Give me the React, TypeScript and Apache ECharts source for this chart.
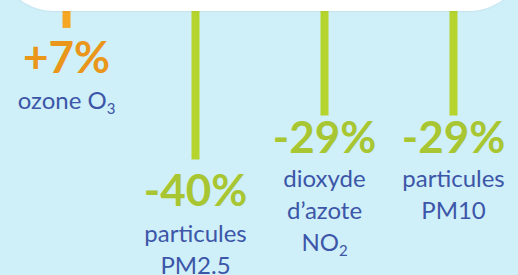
import React, { useEffect, useRef } from "react";
import * as echarts from "echarts";

// Pollutant categories ("_" marks a subscript, "\n" a line break)
const categories = ["ozone O_3", "particules\nPM2.5", "dioxyde\nd’azote\nNO_2", "particules\nPM10"];
// Change in concentration (%)
const changes = [7, -40, -29, -29];

const BG = "#cfeff9";
const ORANGE_BAR = "#f5a623";
const ORANGE_TEXT = "#e9961a";
const GREEN_BAR = "#b5d42e";
const GREEN_TEXT = "#a8c631";
const BLUE = "#3c56a8";
const FONT = "Lato";

// per-bar label styling (line height of value line, distance to bar end)
const valueLineHeights = [55, 55, 50, 50];
const labelDistances = [1, 2, -4.5, -4.5];

function formatValue(v: number) {
  return v > 0 ? `+${v}%` : `-${Math.abs(v)}%`;
}

function formatName(name: string) {
  return name
    .split("\n")
    .map((line) => {
      const idx = line.indexOf("_");
      if (idx < 0) return `{n|${line}}`;
      return `{n|${line.slice(0, idx)}}{s|${line.slice(idx + 1)}}`;
    })
    .join("\n");
}

export default function App() {
  const ref = useRef<HTMLDivElement>(null);

  useEffect(() => {
    document.body.style.margin = "0";
    if (!ref.current) return;
    const chart = echarts.init(ref.current, undefined, { renderer: "svg" });

    const data = changes.map((v, i) => {
      const up = v > 0;
      const barColor = up ? ORANGE_BAR : GREEN_BAR;
      const textColor = up ? ORANGE_TEXT : GREEN_TEXT;
      return {
        value: Math.abs(v),
        itemStyle: { color: barColor },
        label: {
          show: true,
          position: "bottom",
          distance: labelDistances[i],
          align: "center",
          formatter: `{v|${formatValue(v)}}\n` + formatName(categories[i]),
          rich: {
            v: {
              fontFamily: FONT,
              fontSize: 44,
              fontWeight: "bold",
              color: textColor,
              lineHeight: valueLineHeights[i],
              align: "center",
            },
            n: {
              fontFamily: FONT,
              fontSize: 24,
              color: BLUE,
              lineHeight: 32,
              align: "center",
            },
            s: {
              fontFamily: FONT,
              fontSize: 15,
              color: BLUE,
              lineHeight: 7,
              verticalAlign: "bottom",
            },
          },
        },
      };
    });

    chart.setOption({
      animation: false,
      backgroundColor: BG,
      grid: { left: 2, width: 528, top: 0, bottom: 0, containLabel: false },
      xAxis: {
        type: "category",
        data: categories,
        show: false,
      },
      yAxis: {
        type: "value",
        inverse: true,
        min: 0,
        max: 69,
        show: false,
      },
      series: [
        {
          type: "bar",
          data,
          barWidth: 8,
          z: 2,
        },
      ],
      graphic: [
        {
          type: "rect",
          z: 100,
          shape: { x: -5, y: -70, width: 533, height: 81, r: [0, 0, 60, 60] },
          style: {
            fill: "#ffffff",
            shadowBlur: 2,
            shadowColor: "rgba(0,0,0,0.12)",
          },
        },
      ],
    });

    return () => chart.dispose();
  }, []);

  return (
    <div
      ref={ref}
      style={{ position: "fixed", left: 0, top: 0, width: 518, height: 275 }}
    />
  );
}
